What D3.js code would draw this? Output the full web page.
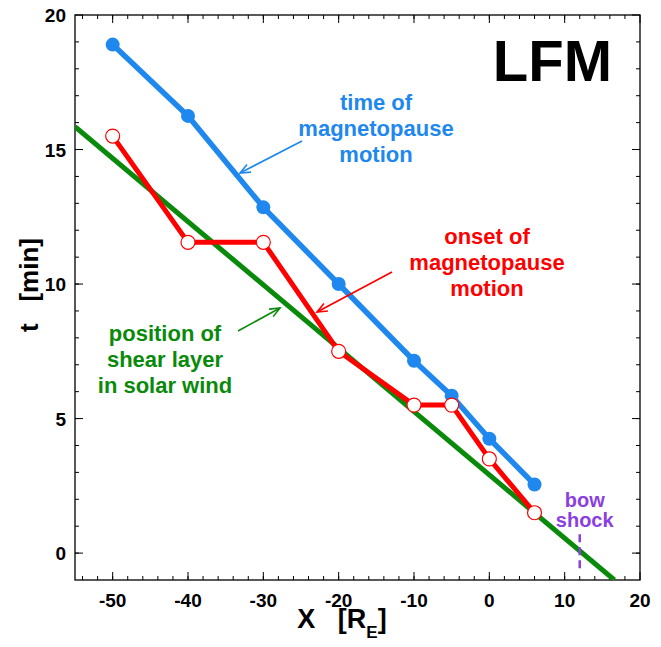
<!DOCTYPE html>
<html>
<head>
<meta charset="utf-8">
<script src="https://cdn.jsdelivr.net/npm/d3@7"></script>
<style>
  body { margin: 0; background: #fff; }
  svg { font-family: "Liberation Sans", Arial, sans-serif; font-weight: bold; }
  text { white-space: pre; }
</style>
</head>
<body>
<svg id="chart" width="661" height="647"></svg>
<script>
// data
var xPos = [-50, -40, -30, -20, -10, -5, 0, 6];
var tMotion = [18.9, 16.25, 12.85, 10.0, 7.15, 5.85, 4.25, 2.55];   // blue, time of magnetopause motion
var tOnset = [15.5, 11.55, 11.55, 7.5, 5.5, 5.5, 3.5, 1.5];         // red, onset of motion
var shearX = [-55, 16.6];                                            // green line ends
var shearT = [15.85, -1.0];
var bowShockX = 12;
var xTicks = [-50, -40, -30, -20, -10, 0, 10, 20];
var yTicks = [0, 5, 10, 15, 20];

var svg = d3.select("#chart");
var pL = 75, pR = 640, pT = 15, pB = 580;

var x = d3.scaleLinear().domain([-55, 20]).range([pL, pR]);
var y = d3.scaleLinear().domain([-1, 20]).range([pB, pT]);

var blue = "#1e88ee", red = "#ff0000", green = "#0a8a0a", purple = "#8b3fe0";

// clip so lines stay in the box
svg.append("clipPath").attr("id", "clip")
  .append("rect").attr("x", pL).attr("y", pT).attr("width", pR - pL).attr("height", pB - pT);

// frame + ticks on all four sides (inward)
svg.append("rect").attr("x", pL).attr("y", pT).attr("width", pR - pL).attr("height", pB - pT)
  .attr("fill", "none").attr("stroke", "#000").attr("stroke-width", 1.3);

var xMinor = d3.range(-54, 20, 2), yMinor = d3.range(0, 20, 1);
function tickLinesX(vals, len){
  svg.selectAll(null).data(vals).enter().append("line")
    .attr("x1", d => x(d)).attr("x2", d => x(d)).attr("y1", pB).attr("y2", pB - len)
    .attr("stroke", "#000");
  svg.selectAll(null).data(vals).enter().append("line")
    .attr("x1", d => x(d)).attr("x2", d => x(d)).attr("y1", pT).attr("y2", pT + len)
    .attr("stroke", "#000");
}
function tickLinesY(vals, len){
  svg.selectAll(null).data(vals).enter().append("line")
    .attr("y1", d => y(d)).attr("y2", d => y(d)).attr("x1", pL).attr("x2", pL + len)
    .attr("stroke", "#000");
  svg.selectAll(null).data(vals).enter().append("line")
    .attr("y1", d => y(d)).attr("y2", d => y(d)).attr("x1", pR).attr("x2", pR - len)
    .attr("stroke", "#000");
}
tickLinesX(xMinor, 4);
tickLinesX(xTicks, 8);
tickLinesY(yMinor, 4);
tickLinesY(yTicks, 8);

// tick labels
svg.selectAll(".xl").data(xTicks).enter().append("text")
  .attr("x", d => x(d)).attr("y", pB + 27)
  .attr("text-anchor", "middle").attr("font-size", 19).text(d => d);
svg.selectAll(".yl").data(yTicks).enter().append("text")
  .attr("x", pL - 9).attr("y", d => y(d) + 7)
  .attr("text-anchor", "end").attr("font-size", 19).text(d => d);

// axis titles
var xt = svg.append("text").attr("x", 342).attr("y", 628).attr("text-anchor", "middle").attr("font-size", 27);
xt.append("tspan").text("X   [R");
xt.append("tspan").attr("font-size", 17).attr("dy", 10).text("E");
xt.append("tspan").attr("dy", -10).text("]");

svg.append("text").attr("transform", "translate(38,285) rotate(-90)")
  .attr("text-anchor", "middle").attr("font-size", 26).text("t   [min]");

var plot = svg.append("g").attr("clip-path", "url(#clip)");

// green shear layer line
plot.append("line")
  .attr("x1", x(shearX[0])).attr("y1", y(shearT[0]))
  .attr("x2", x(shearX[1])).attr("y2", y(shearT[1]))
  .attr("stroke", green).attr("stroke-width", 5);

// bow shock
plot.append("line")
  .attr("x1", x(bowShockX)).attr("x2", x(bowShockX))
  .attr("y1", y(0.7)).attr("y2", y(-0.7))
  .attr("stroke", purple).attr("stroke-width", 2.5).attr("stroke-dasharray", "8,5");
svg.append("text").attr("x", x(bowShockX) + 5).attr("y", 507)
  .attr("text-anchor", "middle").attr("font-size", 20).attr("fill", purple).text("bow");
svg.append("text").attr("x", x(bowShockX) + 5).attr("y", 527)
  .attr("text-anchor", "middle").attr("font-size", 20).attr("fill", purple).text("shock");

var line = d3.line().x(d => x(d[0])).y(d => y(d[1]));

// blue series
var blueData = d3.zip(xPos, tMotion);
plot.append("path").datum(blueData).attr("d", line)
  .attr("fill", "none").attr("stroke", blue).attr("stroke-width", 5.5).attr("stroke-linejoin", "round");
plot.selectAll(".bdot").data(blueData).enter().append("circle")
  .attr("cx", d => x(d[0])).attr("cy", d => y(d[1])).attr("r", 7).attr("fill", blue);

// red series
var redData = d3.zip(xPos, tOnset);
plot.append("path").datum(redData).attr("d", line)
  .attr("fill", "none").attr("stroke", red).attr("stroke-width", 5).attr("stroke-linejoin", "round");
plot.selectAll(".rdot").data(redData).enter().append("circle")
  .attr("cx", d => x(d[0])).attr("cy", d => y(d[1])).attr("r", 7)
  .attr("fill", "#fff").attr("stroke", red).attr("stroke-width", 1.2);

// arrow heads
function arrow(x1, y1, x2, y2, col){
  svg.append("line").attr("x1", x1).attr("y1", y1).attr("x2", x2).attr("y2", y2)
    .attr("stroke", col).attr("stroke-width", 1.6);
  var a = Math.atan2(y2 - y1, x2 - x1), L = 11, w = 0.4;
  var p = [[x2 - L * Math.cos(a - w), y2 - L * Math.sin(a - w)], [x2, y2],
           [x2 - L * Math.cos(a + w), y2 - L * Math.sin(a + w)]];
  svg.append("polyline").attr("points", p.map(d => d.join(",")).join(" "))
    .attr("fill", "none").attr("stroke", col).attr("stroke-width", 1.6);
}

// annotations
function label(lines, cx, y0, dy, col){
  lines.forEach(function(s, i){
    svg.append("text").attr("x", cx).attr("y", y0 + i * dy)
      .attr("text-anchor", "middle").attr("font-size", 22).attr("fill", col).text(s);
  });
}
label(["time of", "magnetopause", "motion"], 376, 110, 26, blue);
arrow(302, 141, 240, 173, blue);

label(["onset of", "magnetopause", "motion"], 487, 244, 26, red);
arrow(392, 272, 317, 312, red);

label(["position of", "shear layer", "in solar wind"], 165, 341, 26, green);
arrow(238, 331, 280, 308, green);

// model tag
svg.append("text").attr("x", 612).attr("y", 81).attr("text-anchor", "end")
  .attr("font-size", 58).text("LFM");
</script>
</body>
</html>
